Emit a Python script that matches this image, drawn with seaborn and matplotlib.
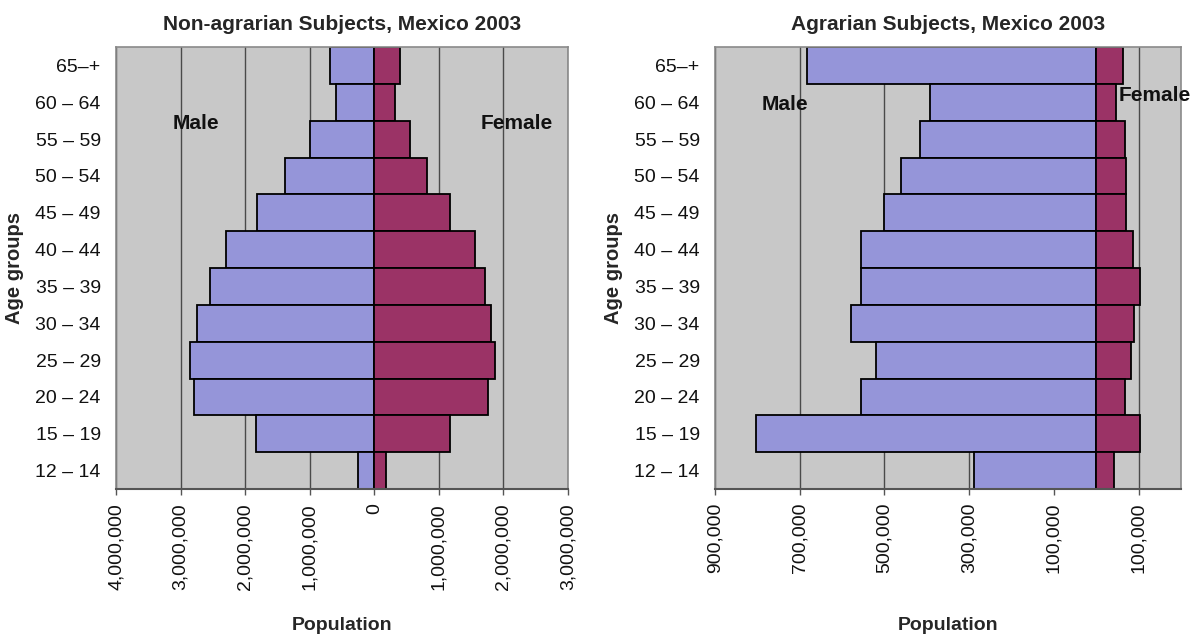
import numpy as np
import pandas as pd
import matplotlib
matplotlib.use("Agg")
import matplotlib.pyplot as plt
import seaborn as sns
from matplotlib.ticker import FixedLocator, FuncFormatter

# ---------------- data (top-to-bottom as displayed) ----------------
ages = ["65–+", "60 – 64", "55 – 59", "50 – 54", "45 – 49", "40 – 44",
        "35 – 39", "30 – 34", "25 – 29", "20 – 24", "15 – 19", "12 – 14"]

nonagr_male = [690000, 595000, 1000000, 1390000, 1815000, 2300000,
               2540000, 2750000, 2860000, 2790000, 1825000, 250000]
nonagr_female = [405000, 320000, 560000, 815000, 1170000, 1560000,
                 1720000, 1815000, 1870000, 1760000, 1165000, 185000]

agr_male = [684000, 393000, 415000, 460000, 501000, 556000,
            556000, 578000, 519000, 556000, 804000, 288000]
agr_female = [62000, 47000, 67000, 69000, 69000, 87000,
              103000, 88000, 82000, 67000, 103000, 42000]

titles = ["Non-agrarian Subjects, Mexico 2003", "Agrarian Subjects, Mexico 2003"]
left_ticks = [-4000000, -3000000, -2000000, -1000000, 0, 1000000, 2000000, 3000000]
right_ticks = [-900000, -700000, -500000, -300000, -100000, 100000]

# ---------------- style ----------------
sns.set_theme(style="white")
plt.rcParams["font.family"] = ["Liberation Sans", "DejaVu Sans"]

MALE = "#9595d9"
FEMALE = "#9b3366"
BG = "#c8c8c8"
GRID = "#4a4a4a"

fig = plt.figure(figsize=(11.99, 6.36), dpi=100)
ax1 = fig.add_axes([116/1199, 1-489/636, 452/1199, 442/636])
ax2 = fig.add_axes([715/1199, 1-489/636, 466/1199, 442/636])


def fmt(v, pos):
    return f"{abs(int(round(v))):,}"


def draw(ax, male, female, xlim, ticks, title, male_pos, female_pos):
    ax.set_facecolor(BG)
    ax.set_xlim(*xlim)
    for t in ticks:
        ax.axvline(t, color=GRID, lw=1.0, zorder=0.5)
    df_m = pd.DataFrame({"age": ages, "pop": -np.array(male, dtype=float)})
    df_f = pd.DataFrame({"age": ages, "pop": np.array(female, dtype=float)})
    sns.barplot(data=df_m, x="pop", y="age", order=ages, orient="h", width=1.0,
                color=MALE, saturation=1, edgecolor="black", linewidth=1.3,
                ax=ax, zorder=2)
    sns.barplot(data=df_f, x="pop", y="age", order=ages, orient="h", width=1.0,
                color=FEMALE, saturation=1, edgecolor="black", linewidth=1.3,
                ax=ax, zorder=2)
    ax.set_xlim(*xlim)
    ax.set_ylim(len(ages) - 0.5, -0.5)
    ax.xaxis.set_major_locator(FixedLocator(ticks))
    ax.xaxis.set_major_formatter(FuncFormatter(fmt))
    ax.tick_params(axis="x", which="major", bottom=True, length=4, width=1,
                   color="#555555", pad=6, labelsize=14, labelrotation=90,
                   labelcolor="#111111")
    ax.tick_params(axis="y", left=False, pad=5, labelsize=14, labelcolor="#111111")
    for lab in ax.get_xticklabels():
        lab.set_va("top")
    for s in ["top", "left", "right"]:
        ax.spines[s].set_color("#8a8a8a")
        ax.spines[s].set_linewidth(1.2)
    ax.spines["bottom"].set_color("#555555")
    ax.spines["bottom"].set_linewidth(1.5)
    ax.set_xlabel("Population", fontsize=14, fontweight="bold", va="center")
    ax.xaxis.set_label_coords(0.5, -0.308)
    ax.set_ylabel("Age groups", fontsize=14.5, fontweight="bold", labelpad=8)
    ax.set_title(title, fontsize=15, fontweight="bold", pad=12)
    ax.text(male_pos[0], male_pos[1], "Male", transform=ax.transAxes,
            ha="center", va="center", fontsize=15, fontweight="bold",
            color="#111111", zorder=5)
    ax.text(female_pos[0], female_pos[1], "Female", transform=ax.transAxes,
            ha="center", va="center", fontsize=15, fontweight="bold",
            color="#111111", zorder=5, clip_on=False)


draw(ax1, nonagr_male, nonagr_female, (-4000000, 3000000), left_ticks,
     titles[0], (0.177, 0.828), (0.887, 0.828))
draw(ax2, agr_male, agr_female, (-900000, 200000), right_ticks,
     titles[1], (0.15, 0.871), (0.944, 0.891))

fig.savefig("out.png", dpi=100)
